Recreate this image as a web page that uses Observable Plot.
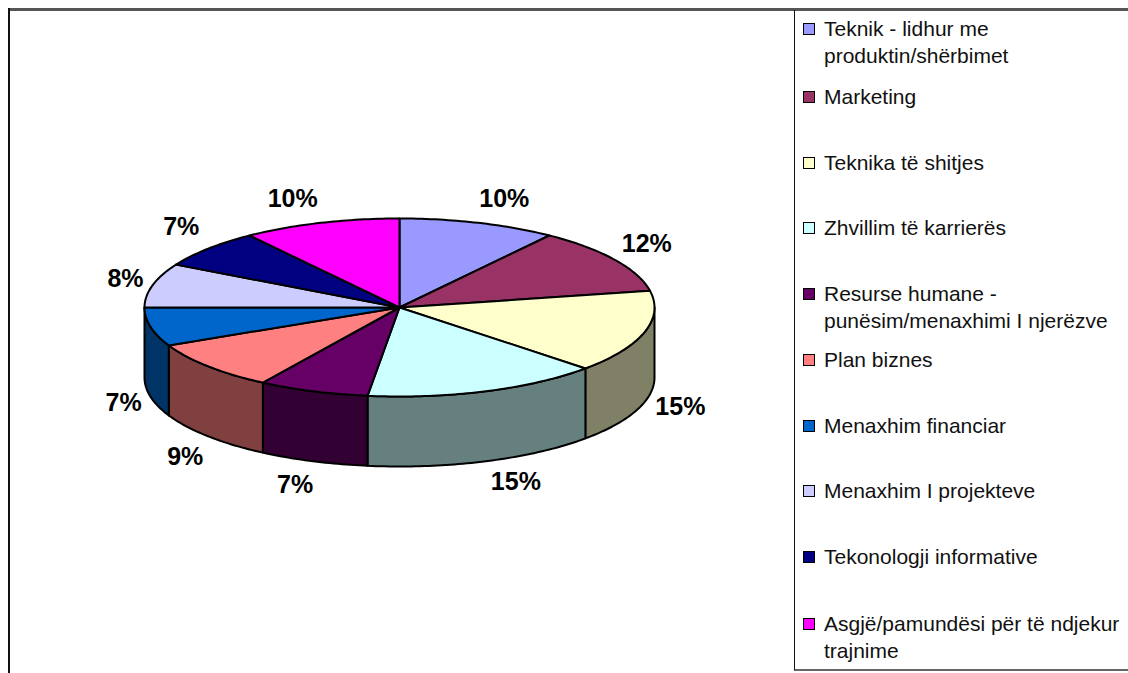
<!DOCTYPE html>
<html>
<head>
<meta charset="utf-8">
<script src="https://cdn.jsdelivr.net/npm/d3@7"></script>
<script src="https://cdn.jsdelivr.net/npm/@observablehq/plot@0.6"></script>
<style>
html,body{margin:0;padding:0;background:#fff;}
#page{position:relative;width:1128px;height:673px;overflow:hidden;font-family:"Liberation Sans",Arial,sans-serif;}
#page svg{position:absolute;left:0;top:0;background:transparent;}
.top{position:absolute;left:8px;right:0;top:8px;height:3px;background:#555;}
.left{position:absolute;left:8px;top:8px;bottom:0;width:1.5px;background:#111;}
.lg{position:absolute;left:794px;top:10px;right:0;height:659px;border-left:1.5px solid #111;border-bottom:2px solid #666;}
.row{position:absolute;left:8px;font-size:21px;line-height:27px;color:#111;white-space:nowrap;}
.row i{position:absolute;left:0;top:8px;width:10px;height:10px;border:1.5px solid #000;box-sizing:content-box;}
.row span{display:block;margin-left:21px;}
</style>
</head>
<body>
<div id="page"></div>
<script>
const categories = ["Teknik - lidhur me\nproduktin/shërbimet","Marketing","Teknika të shitjes","Zhvillim të karrierës","Resurse humane -\npunësim/menaxhimi I njerëzve","Plan biznes","Menaxhim financiar","Menaxhim I projekteve","Tekonologji informative","Asgjë/pamundësi për të ndjekur\ntrajnime"];
const shares = [10,12,15,15,7,9,7,8,7,10];
const topColors = ["#9999FF","#993366","#FFFFCC","#CCFFFF","#660066","#FF8080","#0066CC","#CCCCFF","#000080","#FF00FF"];
const wallColors = ["#4D4D80","#4D1A33","#808066","#668080","#330033","#804040","#003366","#666680","#000040","#800080"];
const labelNudgeX = [26,32,36,30,-18,-23,-27,-27,-27,-28];
const labelNudgeY = [-24,-16,5,21,24,21,6,-6,-22,-24];
const legendRowTops = [5,73,139,204,270,336,402,467,533,600];

const depth = 70/89;
const rad = d => d*Math.PI/180;
const total = d3.sum(shares);
let cum = 0;
const slices = shares.map((v,i)=>{const a0=cum/total*360; cum+=v; const a1=cum/total*360; return {i,v,a0,a1,mid:(a0+a1)/2};});
const arc = (a0,a1,off=0)=>{
  const n=Math.max(2,Math.ceil(a1-a0)+1), pts=[];
  for(let k=0;k<n;k++){const a=a0+(a1-a0)*k/(n-1); pts.push({px:Math.sin(rad(a)),py:Math.cos(rad(a))-off});}
  return pts;
};
const walls=[], tops=[];
slices.forEach(s=>{
  const a0=Math.max(s.a0,90), a1=Math.min(s.a1,270);
  if(a1>a0){
    const poly=[...arc(a0,a1),...arc(a0,a1,depth).reverse()];
    poly.push(poly[0]);
    poly.forEach(p=>walls.push({...p,key:"w"+s.i,color:wallColors[s.i]}));
  }
  const poly=[{px:0,py:0},...arc(s.a0,s.a1),{px:0,py:0}];
  poly.forEach(p=>tops.push({...p,key:"t"+s.i,color:topColors[s.i]}));
});
const labelMarks = slices.map(s=>{
  const c=Math.cos(rad(s.mid));
  return Plot.text([s],{
    x:d=>Math.sin(rad(d.mid)),
    y:d=>c-(c<0?depth:0),
    text:d=>d.v+"%",
    dx:labelNudgeX[s.i],dy:labelNudgeY[s.i],
    fontSize:25,fontWeight:"bold",fontFamily:"Liberation Sans, Arial, sans-serif",
    fill:"#000",textAnchor:"middle",lineAnchor:"middle"
  });
});
const lineOpts={x:"px",y:"py",z:"key",fill:"color",stroke:"#000",strokeWidth:2,strokeLinejoin:"round",curve:"linear"};
const chart = Plot.plot({
  width:1128,height:673,
  marginTop:0,marginRight:0,marginBottom:0,marginLeft:0,
  x:{domain:[-1,1],range:[144,654],axis:null},
  y:{domain:[-1,1],range:[396,218],axis:null},
  color:{type:"identity"},
  style:{background:"transparent"},
  marks:[Plot.line(walls,lineOpts),Plot.line(tops,lineOpts),...labelMarks]
});
const page=document.getElementById("page");
page.insertAdjacentHTML("beforeend",'<div class="top"></div><div class="left"></div>');
page.appendChild(chart);
const lg=document.createElement("div"); lg.className="lg";
categories.forEach((c,i)=>{
  const r=document.createElement("div"); r.className="row"; r.style.top=legendRowTops[i]+"px";
  const sw=document.createElement("i"); sw.style.background=topColors[i]; r.appendChild(sw);
  c.split("\n").forEach(t=>{const s=document.createElement("span"); s.textContent=t; r.appendChild(s);});
  lg.appendChild(r);
});
page.appendChild(lg);
</script>
</body>
</html>
